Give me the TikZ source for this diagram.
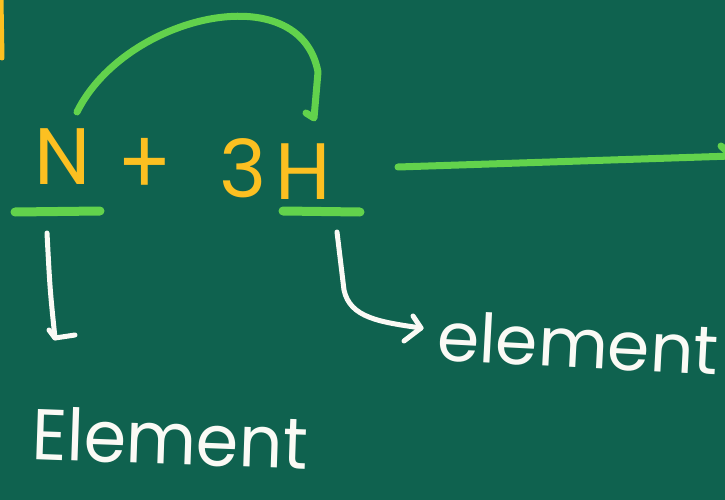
\documentclass[tikz,border=0pt]{standalone}
\usepackage{fontspec}
\setmainfont{Poppins}
\usetikzlibrary{calc}

\definecolor{board}{HTML}{0F624F}
\definecolor{chalkgreen}{HTML}{62D24C}
\definecolor{chalkyellow}{HTML}{FCC021}
\definecolor{chalkwhite}{HTML}{FAFAF5}

\begin{document}
\begin{tikzpicture}[
  x=1pt, y=-1pt,
  formula/.style={text=chalkyellow, font=\fontsize{80}{80}\selectfont, inner sep=0pt},
  word/.style={text=chalkwhite, font=\fontsize{72}{72}\selectfont, inner sep=0pt},
  greenchalk/.style={draw=chalkgreen, line width=7pt, line cap=round, line join=round},
  whitechalk/.style={draw=chalkwhite, line width=5pt, line cap=round, line join=round}
]

  % Board
  \fill[board] (0,0) rectangle (725,500);
  \useasboundingbox (0,0) rectangle (725,500);

  % Cut-off stroke at the left edge
  \draw[draw=chalkyellow, line width=5pt, line cap=round] (1,0) -- (2,58);

  % Equation
  \node[formula] (n)     at (63,157)  {N};
  \node[formula, yscale=1.15] (plus) at (145,167) {+};
  \node[formula] (three) at (243,168) {3};
  \node[formula] (hyd)   at (303,172) {H};

  % Underlines below the two symbols
  \coordinate (nUl1) at (15,212);
  \coordinate (nUl2) at (100,211);
  \coordinate (hUl1) at (283,211);
  \coordinate (hUl2) at (360,212);
  \draw[greenchalk, line width=9pt] (nUl1) -- (nUl2);
  \draw[greenchalk, line width=9pt] (hUl1) -- (hUl2);

  % Arc from N over to H
  \coordinate (nTop) at (77,112);
  \coordinate (hTop) at (314,118);
  \draw[greenchalk] (nTop) .. controls (125,15) and (300,-25) .. (318,72)
    -- (hTop) -- ++(-8,-5);

  % Reaction arrow running off the board
  \coordinate (rxStart) at (398,167);
  \coordinate (rxEnd) at (732,156);
  \draw[greenchalk] (rxStart) -- (rxEnd);
  \draw[greenchalk] (721,146) -- (rxEnd);

  % Labels
  \node[word, xscale=0.95, rotate=-2] (elemN) at (170,438) {Element};
  \node[word, font=\fontsize{68}{68}\selectfont, rotate=-3] (elemH) at (578,343) {element};

  % Pointers to the labels
  \coordinate (nDown) at (55,338);
  \draw[whitechalk] (47,233) .. controls (50,290) .. (nDown);
  \draw[whitechalk] (49,330) -- (nDown) -- (75,335);

  \coordinate (hTip) at (421,328);
  \draw[whitechalk] (337,232) -- (344,290) .. controls (350,318) and (380,322) .. (hTip);
  \draw[whitechalk] (413,316) -- (hTip) -- (404,341);

\end{tikzpicture}
\end{document}
